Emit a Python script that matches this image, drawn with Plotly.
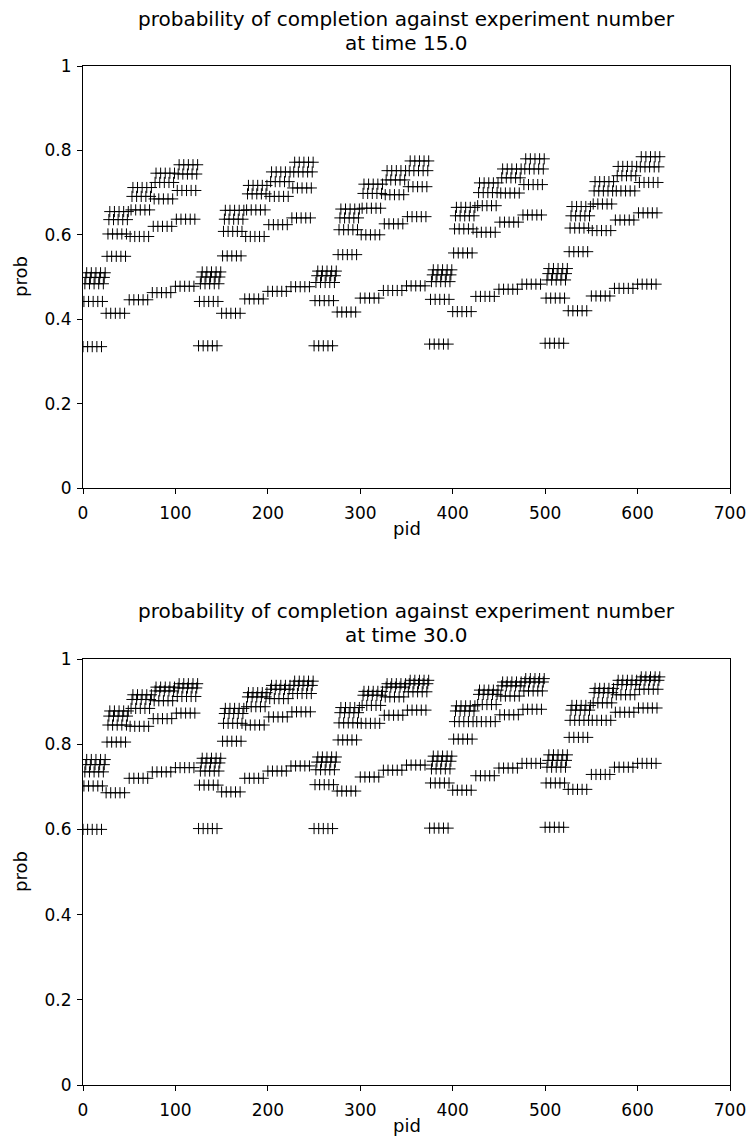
import plotly.graph_objects as go
from plotly.subplots import make_subplots

# Row levels: for each block of 125 pids, 5 sub-blocks x 5 rows (row r -> pid offset r)
t15_b1 = [0.335, 0.442, 0.484, 0.499, 0.510,
          0.414, 0.549, 0.602, 0.636, 0.655,
          0.446, 0.596, 0.659, 0.691, 0.712,
          0.463, 0.620, 0.685, 0.724, 0.746,
          0.478, 0.637, 0.705, 0.744, 0.766]
t15_b2 = [0.337, 0.442, 0.484, 0.500, 0.512,
          0.414, 0.550, 0.608, 0.637, 0.658,
          0.448, 0.596, 0.659, 0.697, 0.717,
          0.466, 0.624, 0.691, 0.726, 0.749,
          0.477, 0.640, 0.711, 0.749, 0.772]
t15_b3 = [0.337, 0.444, 0.487, 0.503, 0.514,
          0.417, 0.553, 0.612, 0.640, 0.661,
          0.450, 0.600, 0.663, 0.698, 0.720,
          0.468, 0.626, 0.695, 0.730, 0.752,
          0.479, 0.643, 0.714, 0.752, 0.775]
t15_b4 = [0.341, 0.447, 0.489, 0.505, 0.517,
          0.418, 0.557, 0.614, 0.645, 0.665,
          0.454, 0.606, 0.669, 0.700, 0.723,
          0.471, 0.630, 0.699, 0.735, 0.756,
          0.483, 0.647, 0.719, 0.756, 0.780]
t15_b5 = [0.343, 0.450, 0.493, 0.508, 0.520,
          0.420, 0.560, 0.616, 0.645, 0.667,
          0.455, 0.610, 0.673, 0.704, 0.726,
          0.473, 0.635, 0.704, 0.740, 0.762,
          0.483, 0.652, 0.724, 0.761, 0.785]

t30_b1 = [0.600, 0.702, 0.735, 0.752, 0.764,
          0.686, 0.805, 0.845, 0.866, 0.878,
          0.720, 0.842, 0.884, 0.905, 0.916,
          0.735, 0.860, 0.902, 0.925, 0.934,
          0.745, 0.873, 0.912, 0.932, 0.942]
t30_b2 = [0.602, 0.704, 0.737, 0.756, 0.767,
          0.688, 0.807, 0.849, 0.872, 0.884,
          0.720, 0.845, 0.888, 0.911, 0.921,
          0.737, 0.864, 0.907, 0.929, 0.938,
          0.749, 0.876, 0.919, 0.938, 0.948]
t30_b3 = [0.602, 0.705, 0.740, 0.758, 0.770,
          0.690, 0.810, 0.850, 0.874, 0.886,
          0.723, 0.849, 0.891, 0.915, 0.924,
          0.739, 0.868, 0.911, 0.934, 0.942,
          0.751, 0.880, 0.923, 0.942, 0.950]
t30_b4 = [0.603, 0.709, 0.742, 0.760, 0.772,
          0.692, 0.812, 0.853, 0.878, 0.890,
          0.726, 0.853, 0.893, 0.917, 0.927,
          0.744, 0.869, 0.913, 0.937, 0.946,
          0.755, 0.882, 0.925, 0.946, 0.954]
t30_b5 = [0.605, 0.709, 0.746, 0.762, 0.775,
          0.694, 0.816, 0.856, 0.880, 0.891,
          0.729, 0.856, 0.897, 0.921, 0.931,
          0.746, 0.875, 0.916, 0.940, 0.950,
          0.755, 0.885, 0.929, 0.950, 0.958]

x_ticks = [0, 100, 200, 300, 400, 500, 600, 700]
y_ticks = [0, 0.2, 0.4, 0.6, 0.8, 1]
title_line1 = "probability of completion against experiment number"
title_line2 = ["at time 15.0", "at time 30.0"]
x_title = "pid"
y_title = "prob"


def expand(blocks):
    pids, probs = [], []
    for b, levels in enumerate(blocks):
        for s in range(5):
            for j in range(5):
                for r in range(5):
                    pids.append(b * 125 + s * 25 + j * 5 + r)
                    probs.append(levels[s * 5 + r])
    order = sorted(range(len(pids)), key=lambda i: pids[i])
    return [pids[i] for i in order], [probs[i] for i in order]


FONT = "DejaVu Sans"
W, H = 747, 1139
# plot area in pixel coords
PX0, PX1 = 83, 730
P1Y0, P1Y1 = 66, 488
P2Y0, P2Y1 = 659, 1085
L = PX0
R = W - PX1
T = P1Y0
B = H - P2Y1
ph = H - T - B
pw = W - L - R


def fy(y_px):
    return 1 - (y_px - T) / ph


def fx(x_px):
    return (x_px - L) / pw


fig = make_subplots(rows=2, cols=1)
datasets = [[t15_b1, t15_b2, t15_b3, t15_b4, t15_b5],
            [t30_b1, t30_b2, t30_b3, t30_b4, t30_b5]]
for i, ds in enumerate(datasets):
    px_, py_ = expand(ds)
    fig.add_trace(go.Scatter(x=px_, y=py_, mode="markers",
                             marker=dict(symbol="cross-thin", size=8,
                                         line=dict(width=1, color="black"), color="black"),
                             showlegend=False), row=i + 1, col=1)

axis_common = dict(showline=True, mirror=True, linecolor="black", linewidth=1,
                   ticks="outside", ticklen=5, tickcolor="black", showgrid=False,
                   zeroline=False, automargin=False, ticklabeloverflow="allow",
                   tickfont=dict(family=FONT, size=17, color="black"))
fig.update_xaxes(range=[0, 700], tickvals=x_ticks, ticklabelstandoff=5, **axis_common)
fig.update_yaxes(range=[0, 1], tickvals=y_ticks, ticklabelstandoff=2, **axis_common)
fig.update_layout(yaxis=dict(domain=[fy(P1Y1), fy(P1Y0)]),
                  yaxis2=dict(domain=[fy(P2Y1), fy(P2Y0)]))

cx = fx((PX0 + PX1) / 2)
title_font = dict(family=FONT, size=20, color="black")
label_font = dict(family=FONT, size=18, color="black")
for line2, (y1, y2, ypid, yprob) in zip(title_line2, [(19, 43, 528, 277), (611, 635, 1125, 872)]):
    fig.add_annotation(text=title_line1, xref="paper", yref="paper", x=cx, y=fy(y1),
                       xanchor="center", yanchor="middle", showarrow=False, font=title_font)
    fig.add_annotation(text=line2, xref="paper", yref="paper", x=cx, y=fy(y2),
                       xanchor="center", yanchor="middle", showarrow=False, font=title_font)
    fig.add_annotation(text=x_title, xref="paper", yref="paper", x=cx, y=fy(ypid),
                       xanchor="center", yanchor="middle", showarrow=False, font=label_font)
    fig.add_annotation(text=y_title, xref="paper", yref="paper", x=fx(20), y=fy(yprob),
                       xanchor="center", yanchor="middle", textangle=-90,
                       showarrow=False, font=label_font)

fig.update_layout(width=W, height=H, margin=dict(l=L, r=R, t=T, b=B, pad=0),
                  plot_bgcolor="white", paper_bgcolor="white",
                  font=dict(family=FONT, color="black"))
fig.write_html("out.html", config={"displayModeBar": False},
               post_script="document.body.style.margin='0';"
                           "document.documentElement.style.overflow='hidden';")
